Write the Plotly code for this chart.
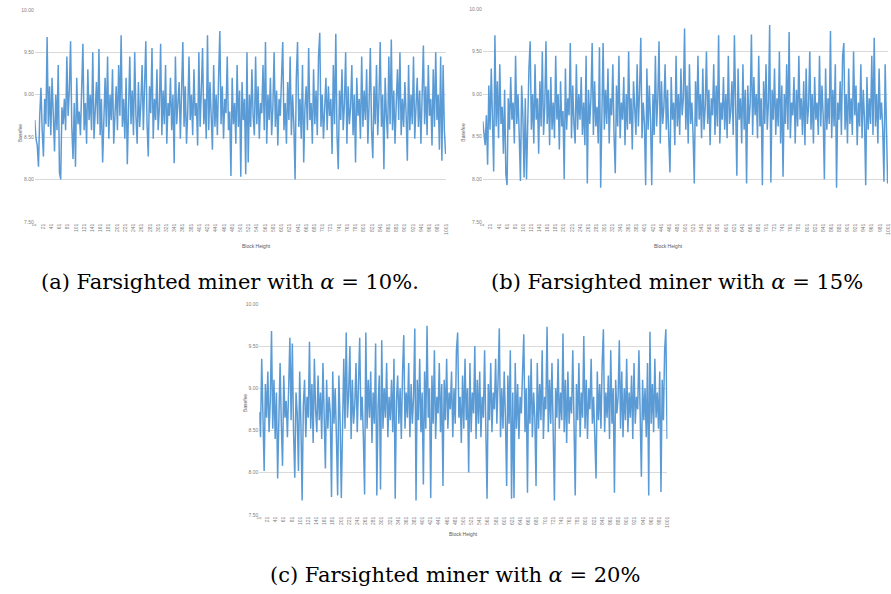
import plotly.graph_objects as go

# Block heights sampled every 3 blocks (1 .. 1000)
blocks = list(range(1, 1001, 3))

basefee_a = [
    8.70, 8.48, 8.40, 8.15, 8.75, 9.08, 8.58, 8.27, 8.95, 8.65,
    9.68, 8.62, 9.10, 8.52, 9.20, 8.70, 8.33, 9.00, 8.58, 9.35,
    8.08, 8.00, 8.85, 8.65, 8.95, 8.58, 9.45, 8.75, 9.05, 9.63,
    8.62, 8.24, 8.90, 8.15, 9.20, 8.65, 8.80, 8.52, 9.10, 9.60,
    8.58, 8.90, 8.42, 9.30, 8.70, 9.00, 8.58, 9.50, 8.48, 8.85,
    9.15, 8.65, 9.54, 8.52, 8.95, 8.20, 8.78, 9.20, 8.62, 9.45,
    8.48, 9.00, 8.70, 9.30, 8.42, 8.85, 9.10, 8.58, 9.35, 8.75,
    9.70, 8.62, 8.95, 8.48, 9.20, 8.18, 8.80, 9.45, 8.65, 9.05,
    8.52, 9.50, 8.75, 8.42, 9.15, 8.62, 8.90, 9.35, 8.58, 9.00,
    9.63, 8.65, 8.27, 9.10, 8.78, 9.55, 8.48, 8.95, 8.70, 9.30,
    8.58, 8.85, 9.60, 8.52, 9.05, 8.65, 9.35, 8.42, 8.90, 8.75,
    9.20, 8.58, 9.00, 8.19, 9.45, 8.65, 8.85, 9.15, 8.48, 8.95,
    9.62, 8.62, 9.10, 8.42, 8.80, 9.45, 8.70, 9.00, 8.52, 9.30,
    8.75, 8.90, 8.40, 9.50, 8.62, 9.05, 9.55, 8.65, 8.95, 8.48,
    9.70, 8.58, 9.15, 8.75, 8.35, 9.35, 8.62, 9.00, 8.52, 9.20,
    9.75, 8.65, 9.10, 8.48, 8.95, 8.78, 9.45, 8.58, 8.80, 8.04,
    9.20, 8.65, 8.90, 8.42, 9.35, 8.62, 9.05, 8.03, 9.15, 8.70,
    8.95, 8.06, 9.50, 8.20, 9.00, 8.62, 9.30, 8.75, 8.52, 9.45,
    8.65, 9.10, 8.48, 8.90, 8.78, 9.35, 8.58, 9.62, 8.42, 9.00,
    8.70, 9.20, 8.52, 8.85, 9.50, 8.62, 9.05, 8.40, 8.95, 8.75,
    9.30, 9.62, 8.58, 8.90, 8.42, 9.15, 8.70, 9.45, 8.52, 9.00,
    8.65, 8.00, 9.20, 9.62, 8.62, 8.95, 8.48, 9.35, 8.20, 8.85,
    9.10, 8.58, 9.55, 8.70, 8.90, 8.42, 9.30, 8.65, 9.05, 8.52,
    9.45, 9.73, 8.62, 9.00, 8.48, 8.80, 9.20, 8.58, 9.10, 8.75,
    8.95, 8.30, 9.35, 8.65, 9.72, 8.52, 8.12, 9.05, 8.70, 9.30,
    8.58, 8.90, 9.50, 8.42, 9.10, 8.65, 8.85, 9.35, 8.52, 9.00,
    8.20, 9.20, 8.75, 8.95, 8.48, 9.45, 8.62, 9.05, 8.70, 9.30,
    8.42, 8.90, 9.55, 8.58, 8.25, 9.10, 8.65, 9.35, 8.52, 8.95,
    9.62, 8.62, 9.00, 8.12, 9.20, 8.75, 8.48, 9.45, 8.65, 9.65,
    8.58, 9.05, 8.42, 8.90, 9.30, 8.70, 9.50, 8.52, 8.95, 8.62,
    9.15, 8.78, 8.22, 9.35, 8.58, 9.00, 8.65, 9.45, 8.48, 8.85,
    9.20, 8.62, 9.05, 8.42, 8.90, 9.58, 8.65, 9.10, 8.52, 9.35,
    8.75, 8.95, 8.40, 9.30, 8.62, 9.50, 8.70, 9.00, 8.35, 9.45,
    8.22, 9.35, 8.58, 8.30,
]

basefee_b = [
    8.68, 8.48, 8.40, 8.75, 8.17, 9.10, 8.58, 9.30, 8.52, 8.09,
    9.69, 8.62, 9.15, 8.48, 9.35, 8.65, 8.85, 8.30, 9.05, 8.06,
    7.93, 8.95, 8.58, 9.20, 8.70, 8.90, 8.42, 9.45, 8.65, 9.00,
    8.52, 7.98, 9.10, 8.75, 8.02, 8.95, 8.00, 8.80, 9.30, 9.62,
    8.58, 9.00, 8.42, 9.35, 8.70, 8.95, 8.30, 9.15, 8.62, 9.50,
    8.52, 8.85, 9.62, 8.65, 9.05, 8.40, 9.20, 8.58, 8.90, 8.48,
    9.45, 8.70, 9.00, 8.35, 9.15, 8.62, 8.80, 8.00, 9.30, 8.58,
    8.95, 8.75, 9.60, 8.48, 9.10, 8.65, 8.42, 9.35, 8.58, 9.00,
    8.70, 9.20, 8.52, 8.90, 8.40, 9.45, 7.95, 9.05, 8.65, 8.95,
    9.60, 8.52, 9.15, 8.62, 8.85, 8.42, 9.55, 7.90, 8.75, 9.60,
    8.58, 9.05, 8.65, 9.30, 8.42, 8.95, 8.75, 9.35, 8.52, 8.07,
    9.10, 8.62, 9.45, 8.48, 8.90, 8.70, 9.20, 8.40, 9.00, 8.58,
    9.50, 8.65, 8.95, 8.35, 9.15, 8.75, 8.52, 9.35, 8.62, 9.05,
    9.66, 8.48, 8.90, 8.65, 7.93, 9.30, 8.58, 9.10, 8.70, 7.93,
    9.00, 8.52, 9.45, 8.62, 8.95, 9.62, 8.42, 9.15, 8.65, 8.85,
    9.35, 8.58, 9.05, 8.48, 8.08, 9.20, 8.70, 8.90, 8.40, 9.45,
    8.62, 9.00, 8.52, 9.30, 8.75, 8.95, 9.77, 8.58, 9.10, 8.42,
    9.35, 8.65, 8.90, 8.52, 7.95, 9.15, 8.62, 9.45, 8.70, 9.00,
    8.48, 9.30, 8.58, 8.85, 9.50, 8.65, 9.05, 8.40, 8.95, 8.75,
    9.35, 8.52, 9.10, 8.62, 9.69, 8.42, 8.90, 8.70, 9.20, 8.58,
    9.00, 8.48, 9.45, 8.65, 8.80, 9.15, 8.52, 9.69, 8.62, 8.04,
    9.30, 8.70, 8.95, 8.42, 9.35, 8.58, 9.05, 7.95, 9.10, 8.65,
    8.90, 9.70, 8.52, 9.20, 8.75, 9.00, 8.48, 9.45, 8.62, 8.95,
    7.93, 9.15, 8.65, 9.35, 8.58, 8.90, 9.81, 7.96, 9.05, 8.70,
    9.30, 8.52, 8.95, 8.62, 9.50, 8.42, 9.10, 8.03, 9.00, 8.65,
    9.35, 8.58, 9.73, 8.48, 8.90, 8.75, 9.20, 8.42, 9.05, 8.62,
    9.45, 8.70, 8.95, 8.52, 9.15, 8.40, 9.30, 8.65, 8.85, 9.50,
    8.58, 9.00, 8.42, 9.20, 8.70, 8.90, 8.52, 9.45, 8.62, 9.10,
    8.75, 8.00, 9.30, 8.58, 8.95, 8.65, 9.74, 8.48, 9.05, 8.62,
    9.35, 7.90, 8.90, 8.70, 9.15, 8.52, 9.45, 9.60, 8.58, 9.00,
    8.42, 9.30, 8.65, 8.95, 8.52, 9.50, 8.75, 9.10, 8.40, 8.90,
    8.62, 9.35, 8.48, 9.05, 8.70, 7.93, 9.20, 8.58, 8.95, 8.65,
    9.45, 8.52, 9.66, 8.62, 9.00, 8.42, 9.30, 8.70, 8.90, 8.58,
    7.97, 9.35, 8.65, 7.95,
]

basefee_c = [
    8.72, 8.42, 9.35, 8.58, 8.02, 9.05, 8.65, 9.20, 8.48, 8.85,
    9.68, 8.52, 9.10, 8.40, 8.95, 7.93, 8.75, 9.30, 8.58, 8.08,
    9.15, 8.65, 8.85, 8.42, 9.00, 9.60, 8.62, 9.53, 8.48, 7.94,
    8.95, 8.70, 8.02, 9.20, 8.58, 7.67, 8.80, 9.10, 8.42, 8.90,
    8.65, 9.55, 8.52, 9.05, 8.35, 9.35, 8.75, 8.48, 9.15, 8.62,
    8.95, 8.40, 9.30, 8.65, 8.05, 9.10, 8.52, 8.90, 8.70, 7.71,
    9.20, 8.58, 9.00, 8.42, 7.73, 9.15, 8.62, 7.70, 8.85, 9.35,
    8.52, 9.66, 8.65, 8.95, 9.50, 8.40, 9.10, 8.58, 8.80, 9.30,
    8.48, 9.00, 9.60, 8.62, 8.90, 8.42, 7.74, 9.66, 8.52, 9.10,
    8.65, 9.20, 8.35, 8.95, 8.58, 9.53, 7.73, 8.78, 9.15, 7.80,
    9.57, 8.52, 9.00, 8.65, 9.30, 8.42, 8.90, 8.62, 9.10, 8.48,
    9.35, 7.69, 8.85, 9.15, 8.58, 9.00, 8.40, 9.20, 9.63, 8.52,
    8.95, 8.65, 9.30, 8.42, 9.05, 8.58, 8.90, 9.71, 7.67, 9.10,
    8.62, 9.35, 8.48, 8.95, 7.86, 9.20, 8.52, 9.74, 8.65, 9.00,
    7.70, 9.15, 8.58, 9.45, 8.40, 8.90, 8.70, 9.30, 8.48, 9.05,
    7.84, 9.10, 8.62, 9.35, 8.52, 8.95, 8.75, 9.20, 8.42, 9.00,
    8.58, 9.45, 9.66, 8.65, 8.90, 8.35, 9.15, 8.52, 9.35, 8.62,
    9.00, 8.00, 9.30, 8.48, 8.95, 8.70, 9.50, 8.40, 9.10, 8.58,
    9.20, 8.42, 8.90, 8.65, 9.45, 8.52, 7.69, 9.05, 8.62, 9.30,
    8.48, 8.95, 8.75, 9.35, 8.58, 9.10, 9.71, 8.42, 9.00, 8.52,
    9.20, 8.65, 7.84, 9.15, 8.58, 9.45, 7.69, 8.95, 7.70, 9.30,
    8.52, 9.05, 8.40, 8.90, 8.70, 9.20, 9.64, 8.48, 9.00, 7.76,
    9.15, 8.58, 9.35, 8.42, 8.95, 8.65, 7.84, 9.30, 8.52, 9.05,
    8.62, 9.45, 8.40, 8.90, 8.75, 9.73, 8.48, 9.10, 8.58, 9.30,
    8.42, 7.67, 9.00, 8.65, 9.35, 8.52, 8.95, 8.62, 9.65, 8.48,
    9.10, 8.35, 9.20, 8.58, 8.90, 8.70, 9.45, 8.48, 7.73, 9.05,
    8.62, 9.30, 8.42, 8.95, 8.65, 9.62, 8.52, 9.10, 8.40, 9.00,
    8.75, 9.35, 8.58, 8.90, 8.42, 7.93, 9.20, 8.62, 9.05, 8.52,
    9.30, 9.70, 8.48, 8.95, 8.65, 9.15, 8.40, 9.45, 8.58, 9.00,
    7.76, 9.10, 8.70, 8.90, 9.57, 8.52, 9.20, 8.42, 9.00, 8.62,
    9.35, 8.48, 8.95, 8.65, 9.15, 8.40, 9.30, 8.58, 8.90, 8.75,
    9.45, 8.52, 7.95, 9.10, 8.62, 9.00, 8.42, 9.30, 7.73, 9.67,
    8.58, 9.05, 8.48, 9.35, 8.65, 8.95, 8.52, 9.20, 7.77, 9.10,
    8.62, 9.45, 9.70, 8.40,
]

x_ticks = list(range(1, 1002, 20))
y_ticks = [7.5, 8.0, 8.5, 9.0, 9.5, 10.0]
captions = [
    "(a) Farsighted miner with <i>α</i> = 10%.",
    "(b) Farsighted miner with <i>α</i> = 15%",
    "(c) Farsighted miner with <i>α</i> = 20%",
]

W, H = 891, 594
LINE = "#5B9BD5"
GRID = "#D9D9D9"
TICK = "#7F7F7F"

def px(x):
    return x / W

def py(y):
    return 1 - y / H

# panel pixel boxes: (left, right, top(10.00), bottom(7.50))
panels = [
    (32, 446, 7, 221),
    (483, 891, 6, 221),
    (258, 669, 304, 517),
]
series = [basefee_a, basefee_b, basefee_c]

fig = go.Figure()
layout = dict(
    width=W, height=H,
    margin=dict(l=0, r=0, t=0, b=0),
    paper_bgcolor="white", plot_bgcolor="white",
    showlegend=False,
)
annotations = []
for k, ((l, r, t, b), vals) in enumerate(zip(panels, series)):
    n = "" if k == 0 else str(k + 1)
    fig.add_trace(go.Scatter(
        x=blocks, y=vals, mode="lines",
        line=dict(color=LINE, width=1.5),
        xaxis="x" + n, yaxis="y" + n, hoverinfo="skip",
    ))
    layout["xaxis" + n] = dict(
        domain=[px(l), px(r)], range=[1, 1001], anchor="y" + n,
        tickvals=x_ticks, ticktext=[str(v) for v in x_ticks],
        tickangle=-90, tickfont=dict(size=5, color=TICK, family="Liberation Sans"),
        showgrid=False, zeroline=False, showline=False, ticks="",
    )
    layout["yaxis" + n] = dict(
        domain=[py(b), py(t)], range=[7.5, 10.0], anchor="x" + n,
        tickvals=y_ticks, tickformat=".2f",
        tickfont=dict(size=5, color=TICK, family="Liberation Sans"),
        showgrid=True, gridcolor=GRID, gridwidth=1,
        zeroline=False, showline=False, ticks="",
    )
    annotations.append(dict(
        text="Block Height", x=px((l + r) / 2), y=py(b + 24),
        xref="paper", yref="paper", showarrow=False,
        font=dict(size=5, color="#595959", family="Liberation Sans"),
    ))
    annotations.append(dict(
        text="Basefee", x=px(l - 20), y=py((t + b) / 2 + 5),
        xref="paper", yref="paper", showarrow=False, textangle=-90,
        font=dict(size=5, color="#595959", family="Liberation Sans"),
    ))

cap_pos = [(229, 282), (679, 282), (455, 578)]
for text, (cx, cy) in zip(captions, cap_pos):
    annotations.append(dict(
        text=text, x=px(cx), y=py(cy), xref="paper", yref="paper",
        showarrow=False, xanchor="center", yanchor="middle",
        font=dict(size=21, color="black", family="DejaVu Serif"),
    ))

layout["annotations"] = annotations
fig.update_layout(**layout)
fig.write_html(
    "out.html",
    config={"displayModeBar": False},
    post_script="document.body.style.margin='0';document.body.style.overflow='hidden';",
)
